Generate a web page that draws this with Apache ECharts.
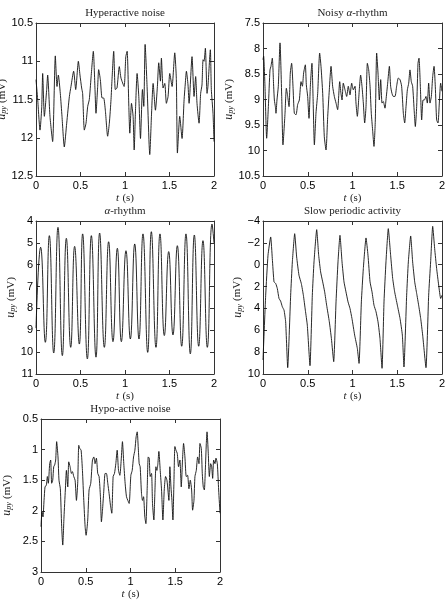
<!DOCTYPE html>
<html>
<head>
<meta charset="utf-8">
<script src="https://cdn.jsdelivr.net/npm/echarts@6/dist/echarts.min.js"></script>
<style>
  html, body { margin: 0; padding: 0; background: #fff; }
  #chart { width: 447px; height: 601px; }
</style>
</head>
<body>
<div id="chart"></div>
<script>
// EEG-like model traces: [time (s), u_py (mV)]
const hyperactive = [
  [0.000, 11.24], [0.019, 11.50], [0.045, 11.90], [0.064, 11.61], [0.075, 11.16], [0.094, 11.72],
  [0.120, 11.37], [0.131, 11.18], [0.157, 11.72], [0.187, 12.05], [0.217, 10.93], [0.236, 11.33],
  [0.251, 11.18], [0.273, 11.42], [0.292, 11.72], [0.318, 12.12], [0.345, 11.81], [0.375, 11.46],
  [0.393, 11.33], [0.423, 11.13], [0.446, 11.37], [0.476, 11.00], [0.494, 11.18], [0.513, 11.35],
  [0.524, 11.42], [0.543, 11.90], [0.562, 11.81], [0.581, 11.59], [0.599, 11.50], [0.618, 11.22],
  [0.644, 10.87], [0.663, 11.37], [0.674, 11.68], [0.693, 11.33], [0.704, 11.11], [0.723, 11.24],
  [0.742, 11.48], [0.760, 11.48], [0.779, 11.64], [0.805, 11.98], [0.824, 11.81], [0.843, 11.50],
  [0.854, 11.24], [0.873, 10.87], [0.891, 11.37], [0.910, 11.35], [0.936, 11.07], [0.955, 11.22],
  [0.990, 11.33], [1.009, 10.94], [1.024, 10.87], [1.043, 11.59], [1.054, 11.94], [1.073, 11.55],
  [1.091, 11.72], [1.103, 12.16], [1.118, 11.64], [1.136, 11.16], [1.155, 11.46], [1.174, 12.01],
  [1.196, 11.37], [1.211, 11.59], [1.226, 10.78], [1.248, 11.33], [1.271, 12.09], [1.278, 12.22],
  [1.297, 11.72], [1.316, 11.29], [1.342, 11.64], [1.364, 11.33], [1.379, 11.02], [1.398, 11.26],
  [1.409, 10.96], [1.428, 11.35], [1.447, 11.29], [1.465, 11.55], [1.484, 11.46], [1.503, 11.16],
  [1.529, 11.33], [1.559, 10.89], [1.577, 11.24], [1.589, 12.20], [1.615, 11.72], [1.641, 12.01],
  [1.664, 11.50], [1.675, 11.33], [1.690, 11.13], [1.708, 11.31], [1.720, 11.55], [1.753, 10.94],
  [1.776, 11.46], [1.794, 11.20], [1.809, 11.55], [1.832, 11.81], [1.850, 11.42], [1.865, 11.31],
  [1.877, 10.98], [1.888, 11.00], [1.903, 10.83], [1.922, 11.42], [1.932, 11.33], [1.959, 10.85],
  [1.970, 11.37], [1.989, 11.68], [2.000, 12.05]
];

const noisyAlpha = [
  [0.000, 8.22], [0.007, 8.15], [0.022, 8.74], [0.041, 9.76], [0.060, 9.14], [0.078, 8.42],
  [0.089, 8.35], [0.104, 8.19], [0.119, 8.74], [0.127, 9.01], [0.138, 9.14], [0.145, 9.27],
  [0.156, 9.01], [0.171, 8.74], [0.190, 7.89], [0.209, 8.94], [0.223, 9.89], [0.246, 9.27],
  [0.261, 8.78], [0.276, 8.94], [0.291, 9.14], [0.305, 8.48], [0.320, 8.29], [0.335, 8.74],
  [0.350, 9.27], [0.369, 9.30], [0.387, 9.10], [0.406, 9.01], [0.425, 8.65], [0.440, 8.74],
  [0.454, 8.48], [0.473, 8.32], [0.484, 8.71], [0.499, 8.94], [0.514, 9.37], [0.529, 8.74],
  [0.540, 8.42], [0.547, 8.29], [0.559, 8.94], [0.574, 9.89], [0.592, 9.27], [0.611, 8.88],
  [0.633, 8.09], [0.648, 8.35], [0.667, 8.88], [0.685, 9.73], [0.704, 9.99], [0.723, 9.33],
  [0.741, 8.81], [0.760, 8.35], [0.778, 8.74], [0.797, 8.94], [0.816, 9.07], [0.834, 9.20],
  [0.857, 8.65], [0.871, 8.88], [0.883, 9.01], [0.897, 8.68], [0.916, 8.81], [0.935, 8.94],
  [0.953, 8.74], [0.972, 8.91], [0.991, 8.68], [1.009, 8.81], [1.028, 8.74], [1.039, 9.07],
  [1.054, 9.33], [1.076, 8.81], [1.091, 8.52], [1.106, 8.74], [1.121, 9.07], [1.136, 9.46],
  [1.151, 9.14], [1.166, 8.29], [1.181, 8.42], [1.196, 8.74], [1.210, 9.27], [1.225, 9.60],
  [1.240, 9.92], [1.255, 9.40], [1.270, 8.09], [1.285, 8.48], [1.300, 9.01], [1.315, 8.61],
  [1.330, 9.07], [1.344, 9.04], [1.363, 9.17], [1.374, 9.01], [1.393, 8.68], [1.412, 8.35],
  [1.426, 8.74], [1.441, 8.88], [1.456, 8.94], [1.475, 8.94], [1.493, 8.74], [1.512, 8.58],
  [1.531, 8.61], [1.549, 8.74], [1.568, 9.27], [1.583, 9.46], [1.598, 9.14], [1.613, 8.81],
  [1.628, 8.68], [1.642, 8.42], [1.657, 8.65], [1.672, 8.74], [1.691, 9.27], [1.702, 9.53],
  [1.717, 9.14], [1.732, 8.29], [1.743, 8.19], [1.758, 8.74], [1.773, 9.40], [1.788, 9.01],
  [1.803, 9.01], [1.821, 8.94], [1.836, 9.07], [1.851, 8.68], [1.866, 9.07], [1.881, 8.94],
  [1.896, 8.55], [1.911, 8.35], [1.925, 8.74], [1.940, 9.40], [1.955, 9.46], [1.970, 9.07],
  [1.985, 8.68], [2.000, 8.84]
];

const alphaRhythm = [
  [0.000, 8.90], [0.052, 5.20], [0.105, 9.55], [0.150, 4.67], [0.199, 10.04], [0.247, 4.29],
  [0.296, 10.16], [0.341, 4.79], [0.390, 9.78], [0.434, 5.16], [0.487, 9.63], [0.524, 4.59],
  [0.577, 10.31], [0.622, 4.67], [0.674, 10.23], [0.715, 4.55], [0.768, 9.78], [0.816, 4.95],
  [0.865, 9.52], [0.914, 5.25], [0.959, 9.52], [1.011, 5.36], [1.060, 9.40], [1.109, 5.05],
  [1.157, 9.40], [1.202, 4.59], [1.255, 10.01], [1.296, 4.49], [1.348, 9.78], [1.393, 4.59],
  [1.442, 9.24], [1.491, 5.40], [1.539, 9.21], [1.588, 5.13], [1.637, 9.73], [1.685, 4.59],
  [1.734, 10.08], [1.779, 4.64], [1.828, 9.73], [1.876, 4.90], [1.925, 9.78], [1.978, 4.14],
  [2.000, 5.00]
];

const slowPeriodic = [
  [0.000, 8.72], [0.030, 2.79], [0.056, -0.87], [0.086, -2.54], [0.104, -0.56], [0.123, 1.57],
  [0.142, 1.72], [0.160, 2.18], [0.179, 3.09], [0.197, 3.33], [0.216, 3.85], [0.235, 4.16],
  [0.253, 5.22], [0.276, 9.42], [0.309, 2.79], [0.328, -0.26], [0.354, -2.84], [0.376, -0.71],
  [0.402, 0.96], [0.428, 1.72], [0.451, 2.79], [0.473, 4.16], [0.495, 5.53], [0.525, 9.24],
  [0.551, 2.79], [0.570, -0.26], [0.600, -3.21], [0.622, -0.87], [0.644, 0.66], [0.667, 1.57],
  [0.689, 2.48], [0.711, 3.70], [0.741, 5.22], [0.764, 6.74], [0.790, 8.87], [0.816, 3.40],
  [0.838, -0.26], [0.860, -2.69], [0.883, -0.26], [0.905, 1.57], [0.927, 2.48], [0.950, 3.40],
  [0.972, 4.00], [0.994, 4.92], [1.024, 6.44], [1.054, 7.66], [1.073, 9.03], [1.099, 3.40],
  [1.121, 0.35], [1.151, -2.45], [1.173, -0.87], [1.196, 1.57], [1.218, 2.48], [1.240, 3.70],
  [1.263, 4.31], [1.285, 5.22], [1.307, 6.74], [1.330, 9.48], [1.352, 3.40], [1.374, -0.26],
  [1.400, -3.30], [1.426, -0.87], [1.449, 1.26], [1.471, 2.48], [1.501, 3.70], [1.531, 4.92],
  [1.557, 6.44], [1.575, 9.36], [1.605, 2.79], [1.624, -0.26], [1.650, -2.63], [1.672, -0.26],
  [1.695, 1.57], [1.717, 2.63], [1.739, 3.70], [1.762, 4.92], [1.784, 6.44], [1.821, 9.42],
  [1.851, 2.79], [1.873, -0.26], [1.896, -3.51], [1.918, -1.47], [1.940, 0.35], [1.963, 1.87],
  [1.985, 3.09], [2.000, 2.79]
];

const hypoactive = [
  [0.000, 2.26], [0.011, 2.02], [0.022, 2.10], [0.034, 1.83], [0.045, 1.61], [0.060, 1.58],
  [0.071, 1.44], [0.082, 1.55], [0.097, 1.23], [0.108, 1.17], [0.119, 1.55], [0.131, 1.50],
  [0.142, 1.28], [0.153, 1.25], [0.164, 1.17], [0.175, 0.87], [0.190, 1.12], [0.201, 1.50],
  [0.216, 1.64], [0.231, 2.26], [0.243, 2.56], [0.257, 2.10], [0.272, 1.66], [0.284, 1.34],
  [0.299, 1.61], [0.310, 1.20], [0.325, 1.28], [0.340, 1.39], [0.351, 1.36], [0.366, 1.44],
  [0.381, 1.50], [0.396, 1.83], [0.410, 1.55], [0.422, 0.93], [0.433, 0.98], [0.448, 1.01],
  [0.463, 1.34], [0.478, 1.83], [0.493, 2.26], [0.504, 2.40], [0.522, 2.15], [0.537, 1.66],
  [0.556, 1.55], [0.575, 1.17], [0.590, 1.12], [0.604, 1.23], [0.619, 1.14], [0.634, 1.39],
  [0.649, 1.44], [0.664, 1.77], [0.675, 2.18], [0.687, 1.99], [0.701, 1.69], [0.716, 1.39],
  [0.731, 1.39], [0.746, 1.55], [0.761, 1.72], [0.776, 1.91], [0.791, 2.04], [0.806, 1.44],
  [0.821, 1.39], [0.836, 1.23], [0.851, 1.01], [0.866, 1.34], [0.881, 1.42], [0.896, 1.17],
  [0.910, 0.87], [0.925, 1.23], [0.940, 1.55], [0.955, 1.77], [0.970, 1.83], [0.985, 1.88],
  [1.004, 1.42], [1.019, 1.34], [1.034, 1.12], [1.049, 1.01], [1.063, 0.79], [1.075, 0.71],
  [1.086, 0.95], [1.097, 1.23], [1.108, 1.28], [1.123, 1.72], [1.134, 1.83], [1.146, 1.77],
  [1.160, 2.10], [1.172, 2.21], [1.187, 1.61], [1.198, 1.12], [1.209, 1.14], [1.220, 1.44],
  [1.235, 1.39], [1.246, 1.88], [1.261, 2.15], [1.272, 1.72], [1.284, 1.28], [1.295, 1.34],
  [1.306, 1.23], [1.317, 1.03], [1.332, 1.34], [1.347, 1.66], [1.362, 2.15], [1.377, 1.66],
  [1.392, 1.44], [1.407, 1.50], [1.418, 1.66], [1.429, 1.83], [1.440, 1.28], [1.452, 1.61],
  [1.463, 1.83], [1.474, 2.15], [1.485, 1.55], [1.496, 0.95], [1.508, 1.01], [1.522, 1.06],
  [1.537, 1.28], [1.552, 1.17], [1.567, 1.61], [1.582, 1.14], [1.593, 0.90], [1.608, 1.12],
  [1.623, 1.44], [1.638, 1.42], [1.653, 1.64], [1.668, 1.50], [1.683, 1.66], [1.694, 1.99],
  [1.709, 1.83], [1.720, 1.44], [1.735, 1.34], [1.750, 1.12], [1.765, 1.23], [1.776, 0.90],
  [1.791, 0.98], [1.802, 1.39], [1.813, 1.61], [1.825, 1.66], [1.836, 1.34], [1.847, 0.90],
  [1.855, 0.71], [1.869, 1.06], [1.881, 1.44], [1.896, 1.23], [1.907, 1.28], [1.918, 1.47],
  [1.929, 1.17], [1.944, 1.23], [1.955, 1.14], [1.970, 1.23], [1.985, 1.66], [2.000, 2.04]
];

const titles = [
  '{t|Hyperactive noise}',
  '{t|Noisy }{a|α}{t|-rhythm}',
  '{a|α}{t|-rhythm}',
  '{t|Slow periodic activity}',
  '{t|Hypo-active noise}'
];
const seriesData = [hyperactive, noisyAlpha, alphaRhythm, slowPeriodic, hypoactive];
const yRanges = [[10.5, 12.5, 0.5], [7.5, 10.5, 0.5], [4, 11, 1], [-4, 10, 2], [0.5, 3, 0.5]];
const xTicks = [0, 2, 0.5];

// layout
const boxes = [
  { left: 36, top: 23, width: 178, height: 153, yGap: 25, xGap: 12 },
  { left: 263, top: 23, width: 179, height: 153, yGap: 25, xGap: 12 },
  { left: 36, top: 221, width: 178, height: 153, yGap: 18, xGap: 12 },
  { left: 263, top: 221, width: 179, height: 153, yGap: 18, xGap: 12 },
  { left: 41, top: 419, width: 179, height: 153, yGap: 28, xGap: 14 }
];
const smoothing = [0.2, 0.2, 0.5, 0.15, 0.2];

const SERIF = "'Liberation Serif', 'DejaVu Serif', serif";
const SANS = "'Liberation Sans', Arial, sans-serif";
const frame = { show: true, onZero: false, lineStyle: { color: '#333', width: 1 } };
const tick = { show: true, inside: true, length: 4, lineStyle: { color: '#333', width: 1 } };
const minus = v => String(v).replace('-', '\u2212');

const chart = echarts.init(document.getElementById('chart'));
const grid = [], xAxis = [], yAxis = [], series = [];

boxes.forEach((b, i) => {
  grid.push({ left: b.left, top: b.top, width: b.width, height: b.height, outerBoundsMode: 'none', containLabel: false });
  const [ymin, ymax, ystep] = yRanges[i];

  // bottom axis with labels
  xAxis.push({
    type: 'value', gridIndex: i, position: 'bottom',
    min: xTicks[0], max: xTicks[1], interval: xTicks[2],
    axisLine: frame, axisTick: tick, splitLine: { show: false },
    axisLabel: { color: '#000', fontSize: 11, fontFamily: SANS, margin: 4 },
    name: '{i|t} {n|(s)}', nameLocation: 'middle', nameGap: b.xGap,
    nameTextStyle: { rich: {
      i: { fontFamily: SERIF, fontStyle: 'italic', fontSize: 11, color: '#222' },
      n: { fontFamily: SERIF, fontSize: 11, color: '#222' }
    } }
  });
  // top axis: frame + ticks + title
  xAxis.push({
    type: 'value', gridIndex: i, position: 'top',
    min: xTicks[0], max: xTicks[1], interval: xTicks[2],
    axisLine: frame, axisTick: tick, axisLabel: { show: false }, splitLine: { show: false },
    name: titles[i], nameLocation: 'middle', nameGap: 4,
    nameTextStyle: { rich: {
      t: { fontFamily: SERIF, fontSize: 11, color: '#222' },
      a: { fontFamily: SERIF, fontStyle: 'italic', fontSize: 11, color: '#222' }
    } }
  });
  yAxis.push({
    type: 'value', gridIndex: i, position: 'left', inverse: true,
    min: ymin, max: ymax, interval: ystep,
    axisLine: frame, axisTick: tick, splitLine: { show: false },
    axisLabel: { color: '#000', fontSize: 11, fontFamily: SANS, margin: 3, formatter: minus },
    name: '{u|u}{s|py} {n|(mV)}', nameLocation: 'middle', nameGap: b.yGap,
    nameTextStyle: { rich: {
      u: { fontFamily: SERIF, fontStyle: 'italic', fontSize: 12, lineHeight: 12, color: '#222' },
      s: { fontFamily: SERIF, fontStyle: 'italic', fontSize: 8, lineHeight: 8, verticalAlign: 'bottom', padding: [3, 0, 0, 0], color: '#222' },
      n: { fontFamily: SERIF, fontSize: 11, lineHeight: 12, color: '#222' }
    } }
  });
  yAxis.push({
    type: 'value', gridIndex: i, position: 'right', inverse: true,
    min: ymin, max: ymax, interval: ystep,
    axisLine: frame, axisTick: tick, axisLabel: { show: false }, splitLine: { show: false }
  });
  series.push({
    type: 'line', xAxisIndex: i * 2, yAxisIndex: i * 2,
    data: seriesData[i], showSymbol: false, smooth: smoothing[i],
    lineStyle: { color: '#111', width: 0.9 }
  });
});

chart.setOption({ animation: false, backgroundColor: '#fff', grid, xAxis, yAxis, series });
</script>
</body>
</html>
